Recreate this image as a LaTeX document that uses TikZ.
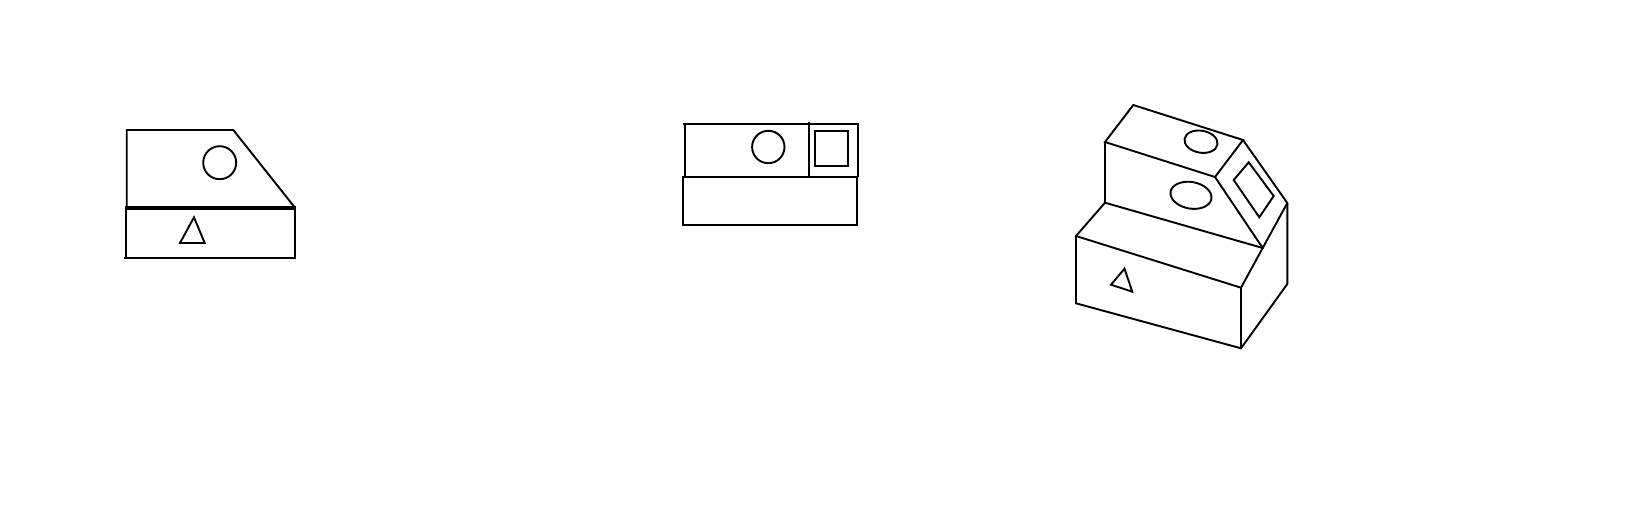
\documentclass[tikz,border=0pt]{standalone}
\usepackage{amsmath, amssymb, amsthm}
\usetikzlibrary{calc}

\begin{document}
\begin{tikzpicture}[x=0.5pt, y=-0.5pt, line join=miter, every path/.style={draw=black, line width=0.95pt}]
  \useasboundingbox[draw=none] (0, 0) rectangle (1640, 520);

  % front view
  \draw (295, 207.7) -- (233.3, 130) -- (126.7, 130) -- (126.7, 207.7);
  \draw[line width=2pt] (125, 208) -- (296, 208);
  \draw (125.7, 207.7) -- (125.7, 257.7);
  \draw (124.3, 257.7) -- (295, 257.7) -- (295, 207.7);
  \draw (219.7, 162.7) circle (16.5);
  \draw (194, 217.3) -- (180, 243) -- (204.7, 243) -- cycle;

  % side view
  \draw (683.3, 124) -- (858.3, 124) -- (858.3, 176.7);
  \draw (684.7, 124) -- (684.7, 176.7);
  \draw (809, 121.7) -- (809, 176.7);
  \draw (815, 131) rectangle (848.3, 166);
  \draw (768.3, 147) circle (16.2);
  \draw (683, 176.7) rectangle (857, 225);

  % isometric view
  \coordinate (topback) at (1133.3, 105);
  \coordinate (topleft) at (1105, 142);
  \coordinate (topright) at (1243, 140);
  \coordinate (topfront) at (1215, 177);
  \coordinate (slopeback) at (1287.3, 203);
  \coordinate (slopefront) at (1262.7, 248);
  \coordinate (stepback) at (1105, 202.7);
  \coordinate (baseleft) at (1076, 236);
  \coordinate (basefront) at (1241, 287.7);
  \coordinate (baseleftlow) at (1076, 303.3);
  \coordinate (basefrontlow) at (1241, 348.3);
  \coordinate (basebacklow) at (1287.3, 284);

  \draw (topleft) -- (topback) -- (topright) -- (topfront) -- cycle;
  \draw (topright) -- (slopeback) -- (slopefront) -- (topfront);
  \draw (topleft) -- (stepback) -- (slopefront) -- (basefront);
  \draw (stepback) -- (baseleft) -- (basefront) -- (basefrontlow);
  \draw (baseleft) -- (baseleftlow) -- (basefrontlow) -- (basebacklow) -- (slopeback);

  \draw[rotate around={-10:(1201, 141.7)}] (1201, 141.7) ellipse (16.7 and 11);
  \draw[rotate around={-10:(1191, 195.3)}] (1191, 195.3) ellipse (20.7 and 13.3);
  \draw (1248.7, 162.3) -- (1273.7, 196) -- (1259.3, 217.3) -- (1233.7, 180) -- cycle;
  \draw (1124.5, 268.7) -- (1111, 284.7) -- (1132.3, 291.7) -- cycle;
\end{tikzpicture}
\end{document}
